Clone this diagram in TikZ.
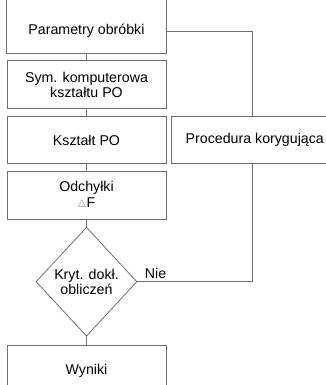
\documentclass[tikz,border=0pt]{standalone}
\usepackage{fontspec}
\setmainfont{Liberation Sans}
\usetikzlibrary{positioning,shapes.geometric}
\definecolor{lineGray}{HTML}{6E6E6E}

\begin{document}
\begin{tikzpicture}[node distance=7pt,
    box/.style={draw=lineGray,line width=.8pt,minimum width=159pt,inner sep=2pt,align=center,
      font=\fontsize{14.2}{15.5}\selectfont},
    decision/.style={draw=lineGray,line width=.8pt,diamond,minimum width=101pt,minimum height=109pt,
      inner sep=0pt,align=center,font=\fontsize{14.2}{15.5}\selectfont},
    link/.style={draw=lineGray,line width=.8pt}]
  \clip (0,0) rectangle (326pt,-385pt);
  \useasboundingbox (0,0) rectangle (326pt,-385pt);
  % main column
  \node[box,draw=none,minimum height=44pt] (par) at (86.5pt,-31pt) {Parametry obróbki};
  \draw[link] ([yshift=40pt]par.north west) |- (par.south east) -- ([yshift=40pt]par.north east);
  \node[box,minimum height=48pt,below=of par] (sym) {Sym. komputerowa\\kształtu PO};
  \node[box,minimum height=47pt,below=of sym] (ksz) {Kształt PO};
  \node[box,minimum height=48pt,below=of ksz] (odch) {Odchyłki\\{\color{lineGray}\fontsize{10}{10}\selectfont$\triangle$}F};
  \node[decision,below=of odch] (kryt) {Kryt. dokł.\\obliczeń};
  \node[box,minimum height=52pt,below=8pt of kryt] (wyn) {Wyniki};
  % correction loop
  \node[box,minimum width=166pt,minimum height=47pt,right=5pt of ksz] (kor) {Procedura korygująca};
  \coordinate (turn) at ([xshift=-2pt]kor.north);
  \draw[link] (par.east) -| (turn);
  \draw[link] (kryt.east) -| ([xshift=-2pt]kor.south);
  \node[font=\fontsize{14.2}{15.5}\selectfont,above right=0pt and 4pt of kryt.east] (nie) {Nie};
  % links
  \draw[link] (par) -- (sym);
  \draw[link] (sym) -- (ksz);
  \draw[link] (ksz) -- (odch);
  \draw[link] (odch) -- (kryt);
  \draw[link] (kryt) -- (wyn);
\end{tikzpicture}
\end{document}
